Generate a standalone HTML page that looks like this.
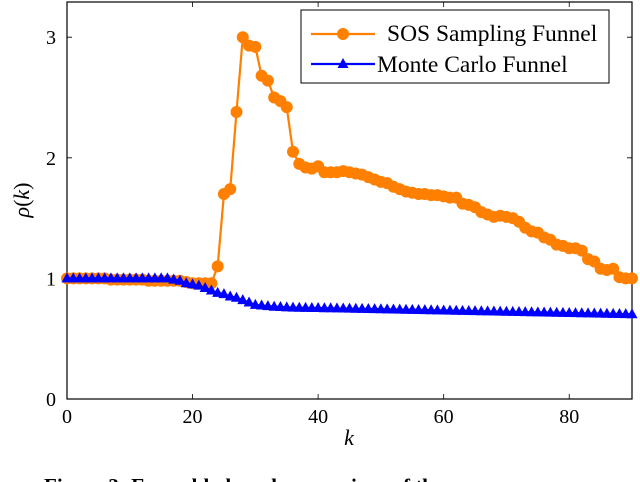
<!DOCTYPE html>
<html><head><meta charset="utf-8"><style>
body{margin:0;background:#fff;width:640px;height:482px;overflow:hidden}
svg{display:block;font-family:"Liberation Serif",serif}
</style></head><body>
<svg id="chart" width="640" height="482" viewBox="0 0 640 482">
<g id="plot"></g>
<text x="44" y="493" font-size="21" font-weight="bold">Figure 3:  Ensemble-based comparison of the</text>
</svg>
<script>
const kValues=[];for(let i=0;i<=90;i++)kValues.push(i);
const sosValues=[1.0,1.0,1.0,1.0,1.0,1.0,1.0,0.99,0.99,0.99,0.99,0.99,0.99,0.98,0.98,0.98,0.98,0.98,0.98,0.97,0.96,0.96,0.96,0.96,1.1,1.7,1.74,2.38,3.0,2.93,2.92,2.68,2.64,2.5,2.47,2.42,2.05,1.95,1.92,1.91,1.93,1.88,1.88,1.88,1.89,1.88,1.87,1.86,1.84,1.82,1.8,1.79,1.76,1.74,1.72,1.71,1.7,1.7,1.69,1.69,1.68,1.67,1.67,1.62,1.61,1.59,1.55,1.53,1.51,1.52,1.51,1.5,1.47,1.42,1.39,1.38,1.34,1.32,1.28,1.27,1.25,1.25,1.23,1.16,1.14,1.08,1.07,1.08,1.01,1.0,1.0];
const mcValues=[1.0,1.0,1.0,1.0,1.0,1.0,1.0,1.0,1.0,1.0,1.0,1.0,1.0,1.0,1.0,1.0,1.0,0.99,0.98,0.96,0.95,0.94,0.92,0.9,0.88,0.87,0.85,0.84,0.82,0.8,0.78,0.775,0.77,0.765,0.763,0.76,0.758,0.757,0.756,0.755,0.755,0.753,0.752,0.751,0.75,0.749,0.748,0.747,0.746,0.745,0.744,0.743,0.742,0.741,0.74,0.739,0.738,0.737,0.736,0.735,0.734,0.733,0.732,0.731,0.73,0.729,0.728,0.727,0.726,0.725,0.723,0.722,0.721,0.72,0.719,0.718,0.717,0.716,0.715,0.714,0.713,0.712,0.711,0.71,0.709,0.708,0.707,0.706,0.705,0.704,0.703];
const xTicks=[0,20,40,60,80];
const yTicks=[0,1,2,3];
const NS="http://www.w3.org/2000/svg";
const X0=67,X1=632,Y0=399,Y1=2;
const xs=v=>X0+(v/90)*(X1-X0);
const ys=v=>399-v*120.6;
const g=document.getElementById('plot');
function mk(t,a){const e=document.createElementNS(NS,t);for(const k in a)e.setAttribute(k,a[k]);return e;}
const fr=mk('rect',{x:X0,y:Y1,width:X1-X0,height:Y0-Y1,fill:'none',stroke:'#000','stroke-width':1.2});


g.appendChild(fr);
xTicks.forEach(t=>{
 const l=mk('path',{d:`M${xs(t)},${Y0}v-5M${xs(t)},${Y1}v5`,stroke:'#000','stroke-width':0.8});
 
 
 g.appendChild(l);
 const tx=mk('text',{x:xs(t),y:423,'font-size':20,'text-anchor':'middle'});tx.textContent=t;
 
 
 g.appendChild(tx);
});
yTicks.forEach(t=>{
 const l=mk('path',{d:`M${X0},${ys(t)}h5M${X1},${ys(t)}h-5`,stroke:'#000','stroke-width':0.8});
 
 
 g.appendChild(l);
 const tx=mk('text',{x:56,y:ys(t)+7,'font-size':20,'text-anchor':'end'});tx.textContent=t;
 
 
 g.appendChild(tx);
});
const xl=mk('text',{x:349,y:445,'font-size':22,'font-style':'italic','text-anchor':'middle'});xl.textContent='k';


g.appendChild(xl);
const yl=mk('text',{x:0,y:0,'font-size':22,'text-anchor':'middle',transform:'translate(29,200) rotate(-90)'});
yl.innerHTML='<tspan font-style="italic">ρ</tspan>(<tspan font-style="italic">k</tspan>)';


g.appendChild(yl);
function line(vals,col,name){
 const p=mk('polyline',{points:vals.map((v,i)=>xs(kValues[i])+','+ys(v)).join(' '),fill:'none',stroke:col,'stroke-width':2.2});
 
 
 g.appendChild(p);
}
line(sosValues,'#ff8000','sos-line');
sosValues.forEach((v,i)=>{
 const c=mk('circle',{cx:xs(kValues[i]),cy:ys(v),r:6,fill:'#ff8000'});
 
 
 g.appendChild(c);
});
line(mcValues,'#0000ff','mc-line');
mcValues.forEach((v,i)=>{
 const x=xs(kValues[i]),y=ys(v);
 const t=mk('path',{d:`M${x},${y-6}L${x+5.5},${y+4}L${x-5.5},${y+4}Z`,fill:'#0000ff'});
 
 
 g.appendChild(t);
});
const lg=mk('g',{});


g.appendChild(lg);
lg.appendChild(mk('rect',{x:301,y:10,width:308,height:73,fill:'#fff',stroke:'#000','stroke-width':1}));
lg.appendChild(mk('path',{d:'M311,34h64',stroke:'#ff8000','stroke-width':2.2}));
lg.appendChild(mk('circle',{cx:343,cy:34,r:6,fill:'#ff8000'}));
lg.appendChild(mk('path',{d:'M311,64h64',stroke:'#0000ff','stroke-width':2.2}));
lg.appendChild(mk('path',{d:'M343,58L348.5,68L337.5,68Z',fill:'#0000ff'}));
const t1=mk('text',{x:387,y:41,'font-size':23.5,fill:'#000'});t1.textContent='SOS Sampling Funnel';


lg.appendChild(t1);
const t2=mk('text',{x:377,y:72,'font-size':23.5,fill:'#000'});t2.textContent='Monte Carlo Funnel';


lg.appendChild(t2);
</script>
</body></html>
